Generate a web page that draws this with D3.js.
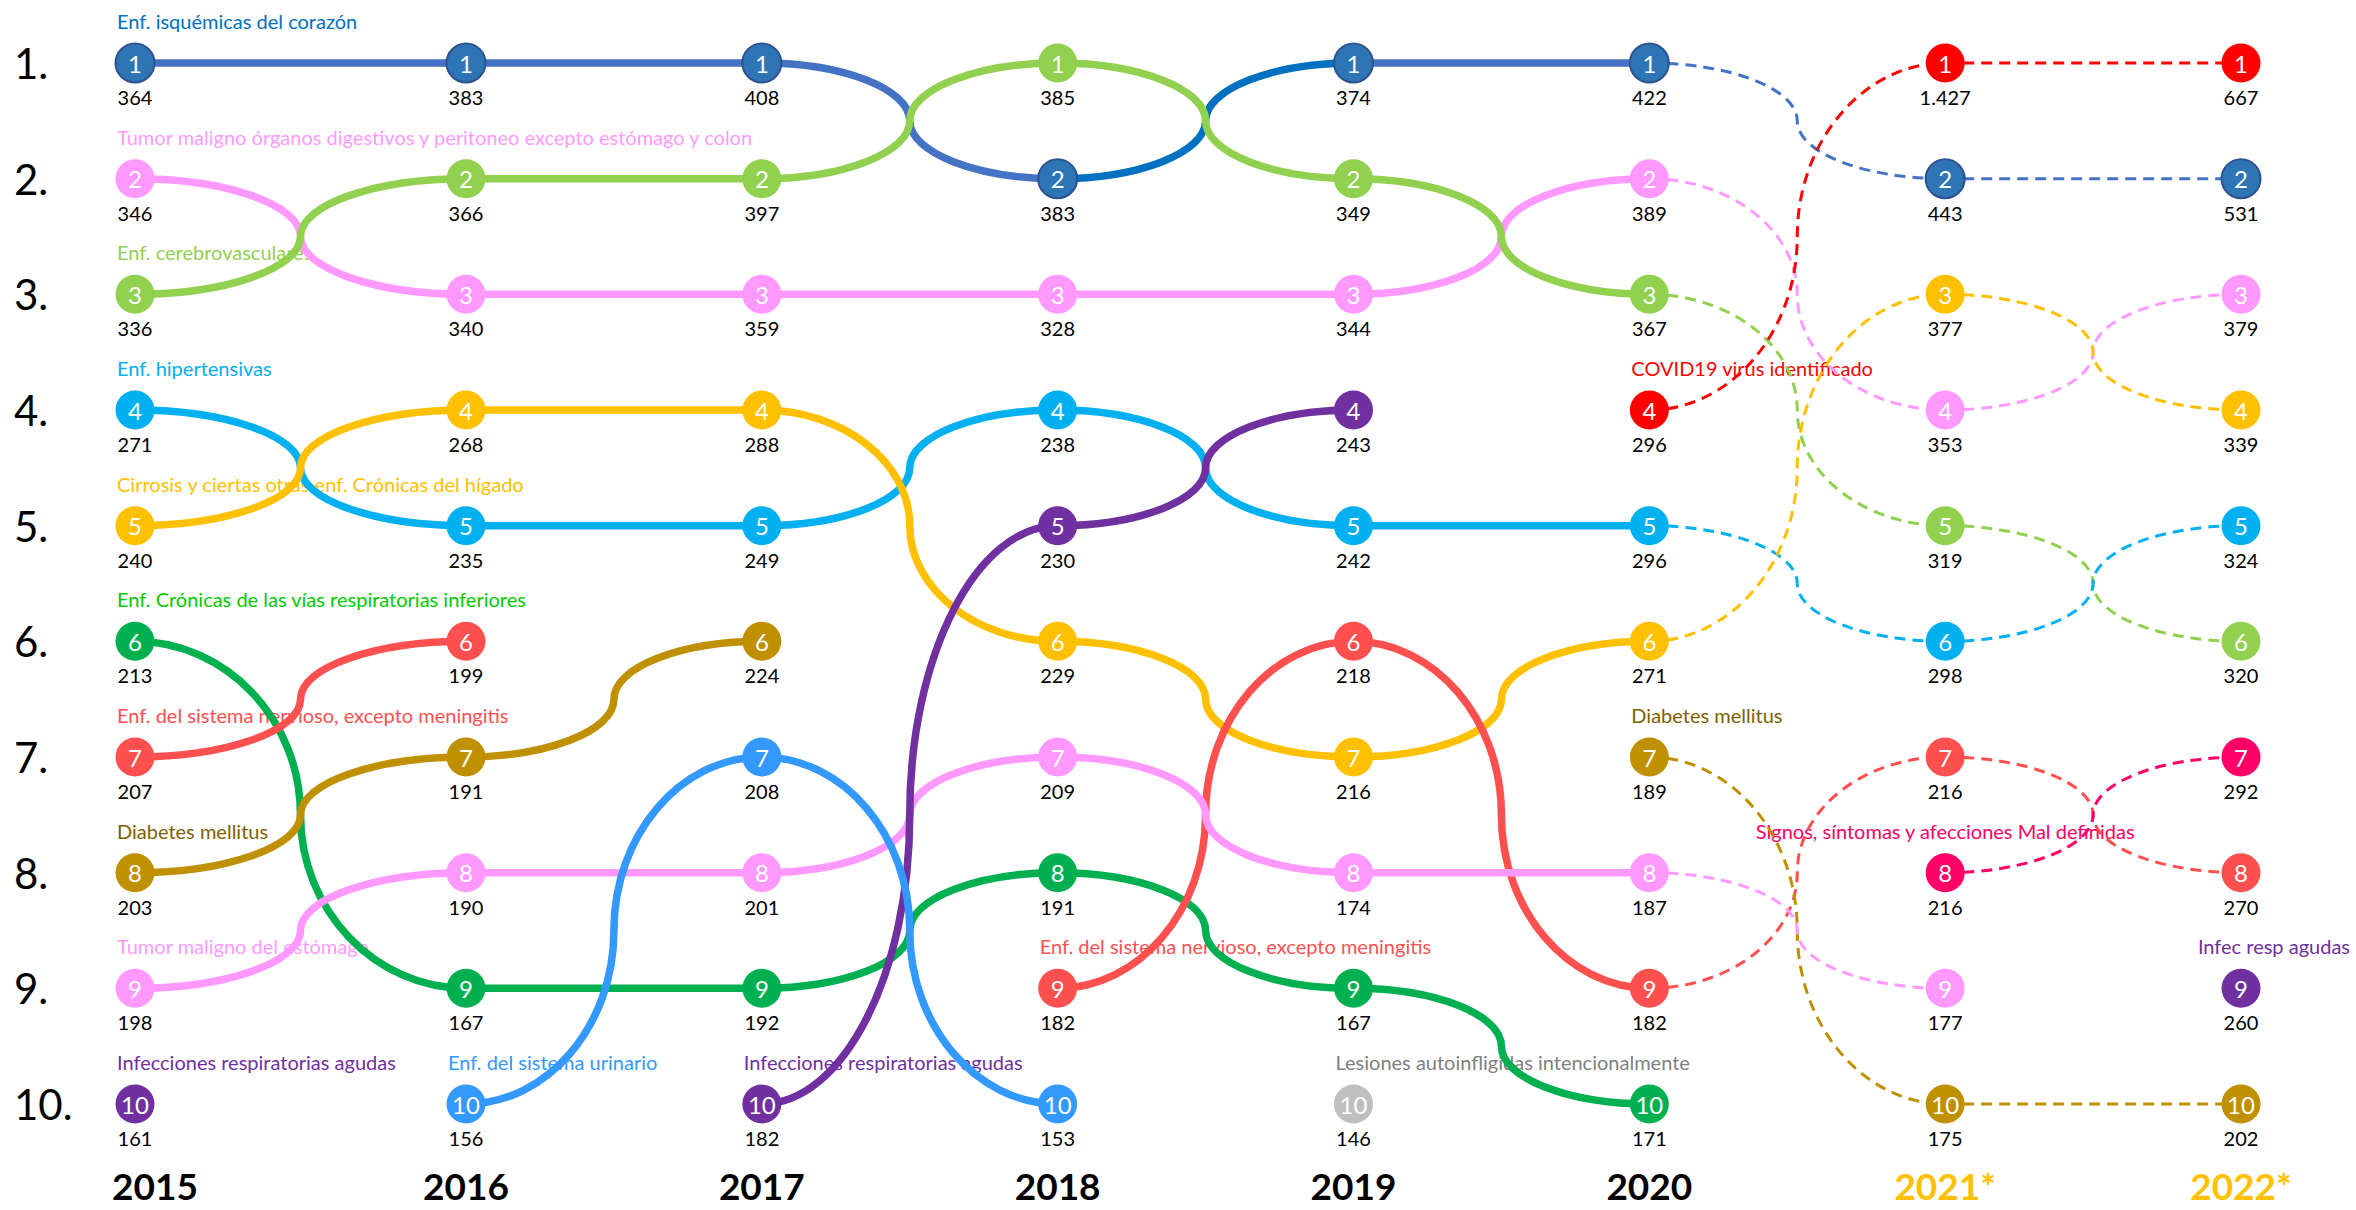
<!DOCTYPE html>
<html>
<head>
<meta charset="utf-8">
<script src="https://cdn.jsdelivr.net/npm/d3@7"></script>
<style>
  body { margin: 0; background: #fff; }
  svg text { font-family: Lato, "Open Sans", sans-serif; }
</style>
</head>
<body>
<div id="chart"></div>
<script>
// years on the x axis (* = preliminary data)
var years = ["2015", "2016", "2017", "2018", "2019", "2020", "2021*", "2022*"];
var rankLabels = ["1.", "2.", "3.", "4.", "5.", "6.", "7.", "8.", "9.", "10."];

// rank per year (null = not in the top 10) and number of deaths
var isquemicasRank = [1, 1, 1, 2, 1, 1, 2, 2];
var isquemicasValue = [364, 383, 408, 383, 374, 422, 443, 531];
var digestivosRank = [2, 3, 3, 3, 3, 2, 4, 3];
var digestivosValue = [346, 340, 359, 328, 344, 389, 353, 379];
var cerebroRank = [3, 2, 2, 1, 2, 3, 5, 6];
var cerebroValue = [336, 366, 397, 385, 349, 367, 319, 320];
var hipertensivasRank = [4, 5, 5, 4, 5, 5, 6, 5];
var hipertensivasValue = [271, 235, 249, 238, 242, 296, 298, 324];
var cirrosisRank = [5, 4, 4, 6, 7, 6, 3, 4];
var cirrosisValue = [240, 268, 288, 229, 216, 271, 377, 339];
var respCronicasRank = [6, 9, 9, 8, 9, 10, null, null];
var respCronicasValue = [213, 167, 192, 191, 167, 171, null, null];
var nerviosoRank = [7, 6, null, 9, 6, 9, 7, 8];
var nerviosoValue = [207, 199, null, 182, 218, 182, 216, 270];
var diabetesRank = [8, 7, 6, null, null, 7, 10, 10];
var diabetesValue = [203, 191, 224, null, null, 189, 175, 202];
var estomagoRank = [9, 8, 8, 7, 8, 8, 9, null];
var estomagoValue = [198, 190, 201, 209, 174, 187, 177, null];
var infeccionesRank = [10, null, 10, 5, 4, null, null, 9];
var infeccionesValue = [161, null, 182, 230, 243, null, null, 260];
var urinarioRank = [null, 10, 7, 10, null, null, null, null];
var urinarioValue = [null, 156, 208, 153, null, null, null, null];
var lesionesRank = [null, null, null, null, 10, null, null, null];
var lesionesValue = [null, null, null, null, 146, null, null, null];
var covidRank = [null, null, null, null, null, 4, 1, 1];
var covidValue = [null, null, null, null, null, 296, 1427, 667];
var signosRank = [null, null, null, null, null, null, 8, 7];
var signosValue = [null, null, null, null, null, null, 216, 292];

// names written next to the first point of each run
var labelTexts = [
  ["isquemicas", "2015", "Enf. isquémicas del corazón"],
  ["digestivos", "2015", "Tumor maligno órganos digestivos y peritoneo excepto estómago y colon"],
  ["cerebro", "2015", "Enf. cerebrovasculares"],
  ["hipertensivas", "2015", "Enf. hipertensivas"],
  ["cirrosis", "2015", "Cirrosis y ciertas otras enf. Crónicas del hígado"],
  ["respCronicas", "2015", "Enf. Crónicas de las vías respiratorias inferiores"],
  ["nervioso", "2015", "Enf. del sistema nervioso, excepto meningitis"],
  ["diabetes", "2015", "Diabetes mellitus"],
  ["estomago", "2015", "Tumor maligno del estómago"],
  ["infecciones", "2015", "Infecciones respiratorias agudas"],
  ["urinario", "2016", "Enf. del sistema urinario"],
  ["infecciones", "2017", "Infecciones respiratorias agudas"],
  ["nervioso", "2018", "Enf. del sistema nervioso, excepto meningitis"],
  ["lesiones", "2019", "Lesiones autoinfligidas intencionalmente"],
  ["covid", "2020", "COVID19 virus identificado"],
  ["diabetes", "2020", "Diabetes mellitus"],
  ["signos", "2021*", "Signos, síntomas y afecciones Mal definidas"],
  ["infecciones", "2022*", "Infec resp agudas"]
];

var series = [
  {key: "isquemicas", rank: isquemicasRank, value: isquemicasValue, line: "#4472C4", dot: "#2E75B6", text: "#0070C0", stroke: "#2F528F"},
  {key: "digestivos", rank: digestivosRank, value: digestivosValue, line: "#FF99FF", dot: "#FF99FF", text: "#FF99FF"},
  {key: "cerebro", rank: cerebroRank, value: cerebroValue, line: "#92D050", dot: "#92D050", text: "#92D050"},
  {key: "hipertensivas", rank: hipertensivasRank, value: hipertensivasValue, line: "#00B0F0", dot: "#00B0F0", text: "#00B0F0"},
  {key: "cirrosis", rank: cirrosisRank, value: cirrosisValue, line: "#FFC000", dot: "#FFC000", text: "#FFC000"},
  {key: "respCronicas", rank: respCronicasRank, value: respCronicasValue, line: "#00B050", dot: "#00B050", text: "#00CC00"},
  {key: "nervioso", rank: nerviosoRank, value: nerviosoValue, line: "#FF5050", dot: "#FF5050", text: "#FF5050"},
  {key: "diabetes", rank: diabetesRank, value: diabetesValue, line: "#BF9000", dot: "#BF9000", text: "#7F6000"},
  {key: "estomago", rank: estomagoRank, value: estomagoValue, line: "#FF99FF", dot: "#FF99FF", text: "#FF99FF"},
  {key: "infecciones", rank: infeccionesRank, value: infeccionesValue, line: "#7030A0", dot: "#7030A0", text: "#7030A0"},
  {key: "urinario", rank: urinarioRank, value: urinarioValue, line: "#3399FF", dot: "#3399FF", text: "#3399FF"},
  {key: "lesiones", rank: lesionesRank, value: lesionesValue, line: "#BFBFBF", dot: "#BFBFBF", text: "#808080"},
  {key: "covid", rank: covidRank, value: covidValue, line: "#FF0000", dot: "#FF0000", text: "#FF0000"},
  {key: "signos", rank: signosRank, value: signosValue, line: "#FF0066", dot: "#FF0066", text: "#FF0066"}
];
var byKey = {};
series.forEach(function(s) { byKey[s.key] = s; });

var width = 2356, height = 1210;
var dashedFrom = 5; // segments after 2020 are dashed
var segmentColor = {"isquemicas-3": "#0070C0"};
var labelAlign = {"signos": "middle"};

var es = d3.formatLocale({decimal: ",", thousands: ".", grouping: [3], currency: ["$", ""]});
var fmt = es.format(",d");

// first gap is a bit wider than the others
var xi = d3.scaleLinear().domain([0, 1, years.length - 1]).range([135, 466, 2241]);
function x(yr) { return xi(years.indexOf(yr)); }
var y = d3.scalePoint().domain(d3.range(1, 11)).range([63, 1104]);

var svg = d3.select("#chart").append("svg")
  .attr("width", width)
  .attr("height", height);

svg.append("rect").attr("width", width).attr("height", height).attr("fill", "#fff");

// bump curve: two quarter-ellipse like arcs that meet in the middle
function bump(x0, y0, x1, y1) {
  var p = d3.path();
  p.moveTo(x0, y0);
  if (y0 === y1) {
    p.lineTo(x1, y1);
    return p.toString();
  }
  var k = 0.55;
  var xm = (x0 + x1) / 2, ym = (y0 + y1) / 2;
  p.bezierCurveTo(x0 + k * (xm - x0), y0, xm, ym - k * (ym - y0), xm, ym);
  p.bezierCurveTo(xm, ym + k * (y1 - ym), x1 - k * (x1 - xm), y1, x1, y1);
  return p.toString();
}

// rank numbers on the left
svg.append("g").selectAll("text")
  .data(rankLabels)
  .enter().append("text")
  .attr("x", 14)
  .attr("y", function(d, i) { return y(i + 1); })
  .attr("dominant-baseline", "central")
  .style("font-size", "42px")
  .attr("fill", "#000")
  .text(function(d) { return d; });

// year labels
svg.append("g").selectAll("text")
  .data(years)
  .enter().append("text")
  .attr("x", function(d, i) { return i === 0 ? x(d) + 20 : x(d); })
  .attr("y", 1200)
  .attr("text-anchor", "middle")
  .style("font-size", "37px")
  .style("font-weight", "bold")
  .attr("fill", function(d) { return d.indexOf("*") > -1 ? "#FFC000" : "#000"; })
  .text(function(d) { return d; });

// series names
var labels = svg.append("g").selectAll("text")
  .data(labelTexts)
  .enter().append("text")
  .attr("y", function(d) {
    var s = byKey[d[0]];
    return y(s.rank[years.indexOf(d[1])]) - 34;
  })
  .attr("fill", function(d) { return byKey[d[0]].text; })
  .style("font-size", "20px")
  .text(function(d) { return d[2]; });

labels.each(function(d) {
  var el = d3.select(this);
  var w = this.getComputedTextLength();
  var cx = x(d[1]);
  var left = labelAlign[d[0]] === "middle" ? cx - w / 2 : cx - 18;
  if (left + w > width - 6) left = width - 6 - w;
  el.attr("x", left);
});

// segments
var segments = [];
series.forEach(function(s) {
  for (var i = 0; i < years.length - 1; i++) {
    if (s.rank[i] != null && s.rank[i + 1] != null) {
      segments.push({s: s, i: i, dashed: i >= dashedFrom});
    }
  }
});

svg.append("g").selectAll("path")
  .data(segments)
  .enter().append("path")
  .attr("d", function(d) {
    return bump(x(years[d.i]), y(d.s.rank[d.i]), x(years[d.i + 1]), y(d.s.rank[d.i + 1]));
  })
  .attr("fill", "none")
  .attr("stroke", function(d) { return segmentColor[d.s.key + "-" + d.i] || d.s.line; })
  .attr("stroke-width", function(d) { return d.dashed ? 3 : 7.5; })
  .attr("stroke-dasharray", function(d) { return d.dashed ? "11,7" : null; });

// points
var points = [];
series.forEach(function(s) {
  years.forEach(function(yr, i) {
    if (s.rank[i] != null) points.push({s: s, year: yr, rank: s.rank[i], value: s.value[i]});
  });
});

var pt = svg.append("g").selectAll("g")
  .data(points)
  .enter().append("g")
  .attr("transform", function(d) { return "translate(" + x(d.year) + "," + y(d.rank) + ")"; });

pt.append("circle")
  .attr("r", 19.5)
  .attr("fill", function(d) { return d.s.dot; })
  .attr("stroke", function(d) { return d.s.stroke || "none"; })
  .attr("stroke-width", 2);

pt.append("text")
  .attr("text-anchor", "middle")
  .attr("dominant-baseline", "central")
  .attr("fill", "#fff")
  .style("font-size", "24px")
  .text(function(d) { return d.rank; });

pt.append("text")
  .attr("text-anchor", "middle")
  .attr("y", 42)
  .attr("fill", "#000")
  .style("font-size", "20px")
  .text(function(d) { return fmt(d.value); });
</script>
</body>
</html>
